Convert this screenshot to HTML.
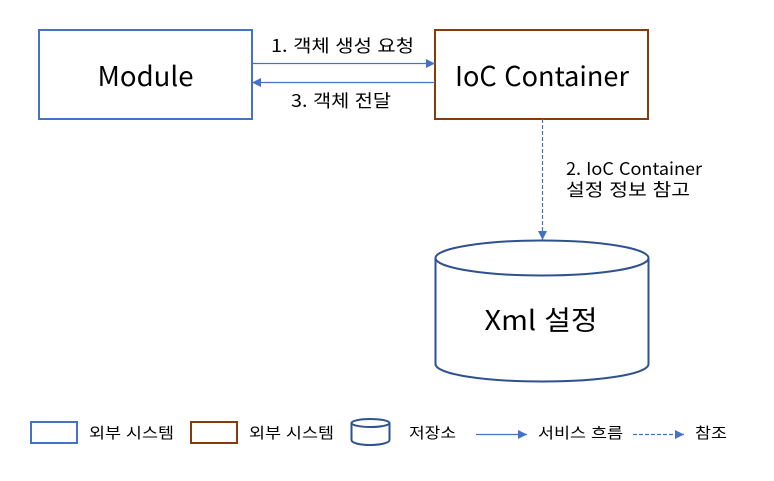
<!DOCTYPE html>
<html lang="ko">
<head>
<meta charset="utf-8">
<style>
html,body{margin:0;padding:0;background:#fff;width:774px;height:481px;overflow:hidden}
svg{display:block}
text{font-family:"Noto Sans CJK KR","NanumGothic","Liberation Sans",sans-serif;fill:#000}
</style>
</head>
<body>
<svg width="774" height="481" viewBox="0 0 774 481" xmlns="http://www.w3.org/2000/svg">
<defs>
<marker id="a" markerUnits="userSpaceOnUse" markerWidth="10" markerHeight="10" refX="9" refY="4.5" orient="auto"><path d="M0 0L9 4.5L0 9Z" fill="#4472c4"/></marker>
</defs>
<rect x="39" y="30" width="213" height="89" fill="#fff" stroke="#4472c4" stroke-width="2"/>
<rect x="435" y="30" width="213" height="89" fill="#fff" stroke="#843c0c" stroke-width="2"/>
<text x="145.500" y="86" font-size="27" text-anchor="middle" textLength="96" lengthAdjust="spacingAndGlyphs">Module</text>
<text x="542" y="86" font-size="27" text-anchor="middle" textLength="174" lengthAdjust="spacingAndGlyphs">IoC Container</text>
<line x1="252" y1="63.500" x2="435" y2="63.500" stroke="#4472c4" stroke-width="1.200" marker-end="url(#a)"/>
<line x1="435" y1="82.500" x2="252" y2="82.500" stroke="#4472c4" stroke-width="1.200" marker-end="url(#a)"/>
<text x="271" y="52" font-size="17.500" textLength="143" lengthAdjust="spacingAndGlyphs">1. 객체 생성 요청</text>
<text x="291" y="107" font-size="17.500" textLength="100" lengthAdjust="spacingAndGlyphs">3. 객체 전달</text>
<line x1="542.500" y1="119" x2="542.500" y2="240" stroke="#4472c4" stroke-width="1.200" stroke-dasharray="4 2" marker-end="url(#a)"/>
<text x="566" y="175" font-size="17.500" textLength="136" lengthAdjust="spacingAndGlyphs">2. IoC Container</text>
<text x="566" y="196" font-size="17.500" textLength="124" lengthAdjust="spacingAndGlyphs">설정 정보 참고</text>
<path d="M435.500 258V364C435.500 374 483 381.500 542 381.500S648.500 374 648.500 364V258" fill="#fff" stroke="#2f528f" stroke-width="2"/>
<ellipse cx="542" cy="258" rx="106.500" ry="17.500" fill="#fff" stroke="#2f528f" stroke-width="2"/>
<text x="541" y="330" font-size="27" text-anchor="middle" textLength="113" lengthAdjust="spacingAndGlyphs">Xml 설정</text>
<rect x="31" y="422" width="46" height="21" fill="#fff" stroke="#4472c4" stroke-width="2"/>
<text x="89" y="438" font-size="15" textLength="85" lengthAdjust="spacingAndGlyphs">외부 시스템</text>
<rect x="191" y="422" width="46" height="21" fill="#fff" stroke="#843c0c" stroke-width="2"/>
<text x="249" y="438" font-size="15" textLength="85" lengthAdjust="spacingAndGlyphs">외부 시스템</text>
<path d="M351.500 423V440C351.500 443 360 445 370 445S389.500 443 389.500 440V423" fill="#fff" stroke="#2f528f" stroke-width="2"/>
<ellipse cx="370.500" cy="423" rx="19" ry="4" fill="#fff" stroke="#2f528f" stroke-width="2"/>
<text x="409" y="438" font-size="15" textLength="47" lengthAdjust="spacingAndGlyphs">저장소</text>
<line x1="476" y1="434.500" x2="527" y2="434.500" stroke="#4472c4" stroke-width="1.200" marker-end="url(#a)"/>
<text x="538" y="438" font-size="15" textLength="85" lengthAdjust="spacingAndGlyphs">서비스 흐름</text>
<line x1="633" y1="434.500" x2="684" y2="434.500" stroke="#4472c4" stroke-width="1.200" stroke-dasharray="4 2" marker-end="url(#a)"/>
<text x="695" y="438" font-size="15" textLength="32" lengthAdjust="spacingAndGlyphs">참조</text>
</svg>
</body>
</html>
